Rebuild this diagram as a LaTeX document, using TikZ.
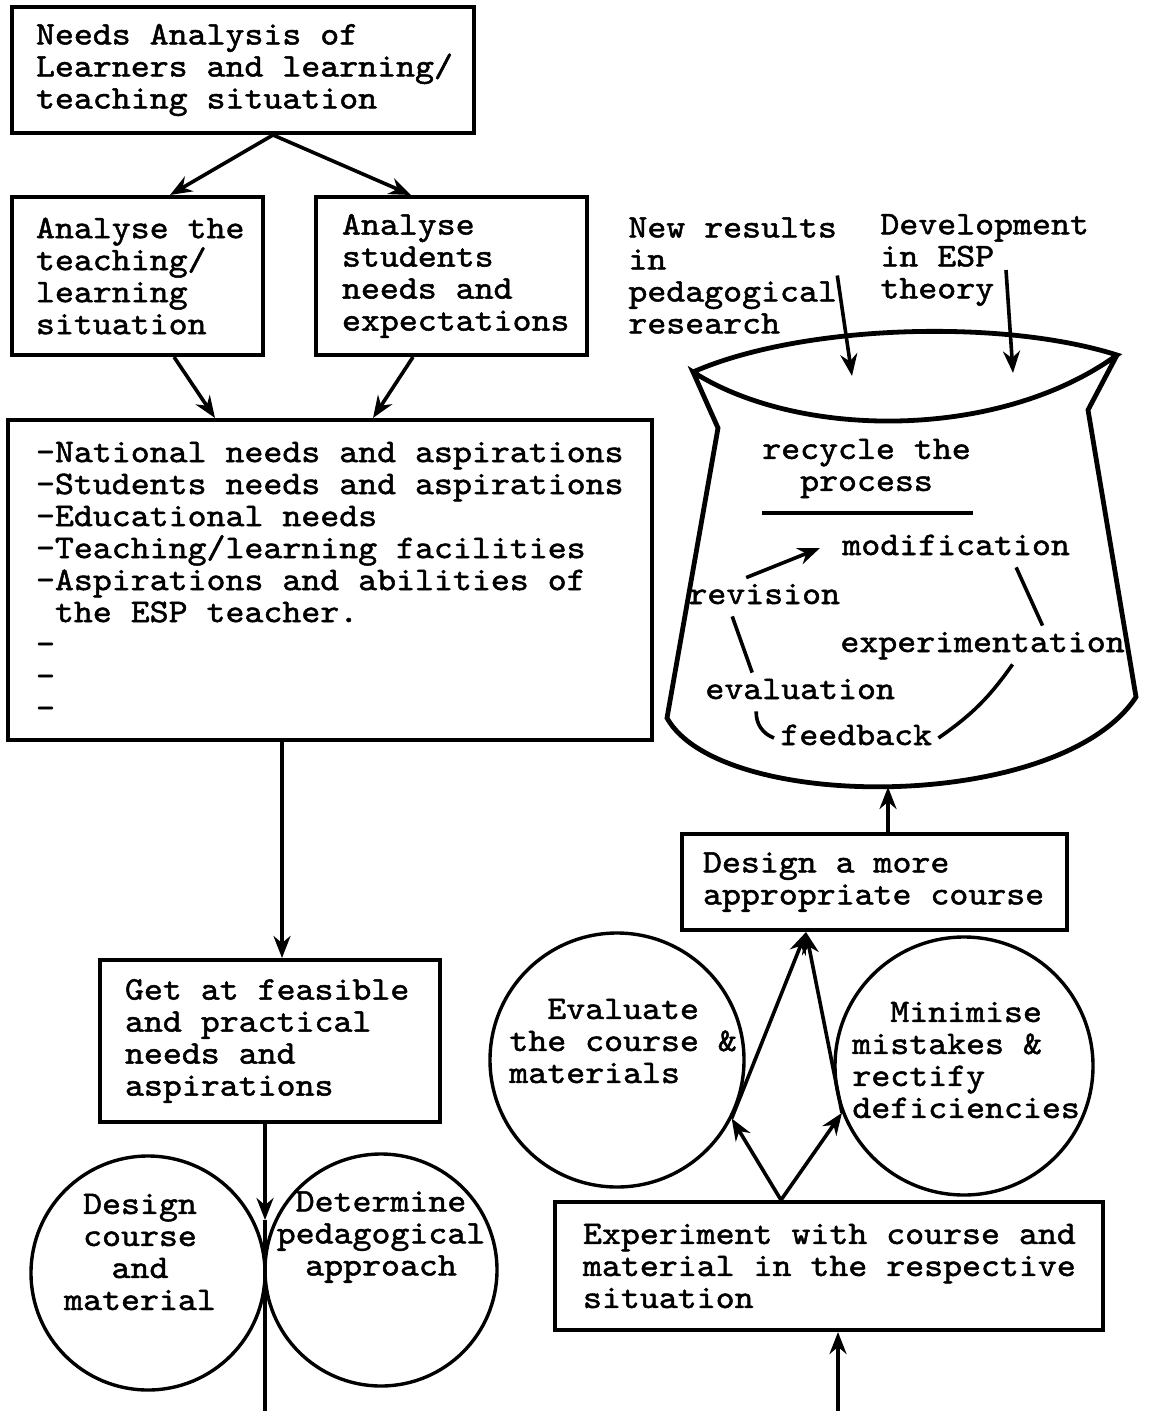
\documentclass[tikz,border=0pt]{standalone}
\usepackage{fontspec}
\newfontfamily\typer{lmmono10-regular.otf}[FakeBold=1.5, FakeStretch=1.094]
\newcommand\typeface{\typer\fontsize{16.5}{16}\selectfont}
\usetikzlibrary{arrows.meta, positioning}

\begin{document}
\begin{tikzpicture}[x=0.5pt, y=-0.5pt,
        every node/.style={font=\typeface, inner sep=0pt,
            execute at begin node={\spaceskip=\fontcharwd\font`x\relax\xspaceskip=\spaceskip\hyphenpenalty=10000\relax}},
        box/.style={draw, line width=2pt, align=left},
        ring/.style={circle, draw, line width=1.7pt},
        word/.style={inner sep=3pt, text height=10pt, text depth=3pt},
        arr/.style={-{Stealth[length=11pt, width=8.5pt]}, line width=1.8pt},
        link/.style={line width=1.8pt},
        bag/.style={line width=2.4pt}
    ]
    \useasboundingbox (0,0) rectangle (1148,1411);

    % Needs analysis and the two analyses
    \node[box, minimum width=231pt, minimum height=63pt, inner xsep=12pt, text width=207pt] (needs) at (243,70)
        {Needs Analysis of\\Learners~and~learning/\\teaching situation};
    \node[box, minimum width=125.5pt, minimum height=79pt, inner xsep=12pt, text width=101.5pt] (teach) at (137.5,276)
        {Analyse~the\\teaching/\\learning\\situation};
    \node[box, minimum width=135.5pt, minimum height=79pt, inner xsep=13pt, text width=109.5pt] (stud) at (451.5,276)
        {Analyse\\students\\needs and\\expectations};
    \draw[arr] (needs.south -| 273,0) -- (teach.north -| 170,0);
    \draw[arr] (needs.south -| 273,0) -- (stud.north -| 411,0);

    % List of needs
    \node[box, minimum width=322pt, minimum height=160pt, inner xsep=14pt, text width=294pt] (list) at (330,580)
        {-National~needs~and~aspirations\\-Students~needs~and~aspirations\\-Educational needs\\-Teaching/learning facilities\\-Aspirations and abilities of\\\phantom{-}the ESP teacher.\\-\\-\\-};
    \draw[arr] (teach.south -| 174,0) -- (list.north -| 215,0);
    \draw[arr] (stud.south -| 413,0) -- (list.north -| 373,0);

    % Feasible needs, course and approach
    \node[box, minimum width=170pt, minimum height=81pt, inner xsep=12.5pt, text width=145pt] (get) at (270,1041)
        {Get~at~feasible\\and practical\\needs and\\aspirations};
    \draw[arr] (list.south -| 282,0) -- (get.north -| 282,0);
    \node[ring, minimum size=117pt] (designc) at (148,1273) {};
    \node[ring, minimum size=116pt] (determc) at (381,1270) {};
    \node[align=center] (designtxt) at (140,1252) {Design\\course\\and\\material};
    \node[align=center] (determtxt) at (381,1237) {Determine\\pedagogical\\approach};
    \coordinate (meet) at (265,1220);
    \coordinate (leftend) at (265,1411);
    \draw[arr] (get.south -| 265,0) -- (meet);
    \draw[link] (meet) -- (leftend);

    % Experiment, evaluate, minimise
    \node[box, minimum width=274pt, minimum height=64pt, inner xsep=14pt, text width=246pt] (exp) at (829,1266)
        {Experiment~with~course~and\\material~in~the~respective\\situation};
    \node[ring, minimum size=127pt] (evalc) at (617,1060) {};
    \node[ring, minimum size=129pt] (minc) at (964,1066) {};
    \node[align=left, anchor=west] (evaltxt) at (509,1041) {\phantom{xx}Evaluate\\the course \&\\materials};
    \node[align=left, anchor=west] (mintxt) at (852,1060) {\phantom{xx}Minimise\\mistakes \&\\rectify\\deficiencies};
    \node[box, minimum width=192.5pt, minimum height=48pt, inner xsep=10.5pt, text width=171.5pt] (more) at (874.5,882)
        {Design a more\\appropriate~course};
    \coordinate (rightend) at (838,1411);
    \draw[arr] (rightend) -- (exp.south -| 838,0);
    \draw[arr] (exp.north -| 781,0) -- (evalc.-27);
    \draw[arr] (exp.north -| 781,0) -- (minc.201);
    \draw[arr] (evalc.-27) -- (more.south -| 806,0);
    \draw[arr] (minc.201) -- (more.south -| 806,0);

    % Recycle bag
    \draw[bag] (693,372) .. controls (800,325) and (1000,318) .. (1117,355)
        .. controls (1000,440) and (800,440) .. (693,372) -- (718,428) -- (667,718)
        .. controls (720,813) and (1060,813) .. (1136,697) -- (1088,410) -- (1117,355);
    \coordinate (bagfoot) at (888,787);
    \draw[arr] (more.north -| 888,0) -- (bagfoot);
    \node[align=left, anchor=west] (newres) at (628,275.5) {New results\\in\\pedagogical\\research};
    \node[align=left, anchor=west] (devesp) at (880,260) {Development\\in ESP\\theory};
    \coordinate (mouthA) at (852,376);
    \coordinate (mouthB) at (1013,373);
    \coordinate (theoryfoot) at (1006,270);
    \draw[arr] (newres.east) -- (mouthA);
    \draw[arr] (theoryfoot) -- (mouthB);

    \node[align=center] (recycle) at (866.5,468.5) {recycle the\\process};
    \draw[link] (762,513) -- (973,513);
    \node[word, anchor=west] (modif) at (836,548) {modification};
    \node[word, anchor=west] (revis) at (682,597) {revision};
    \node[word, anchor=west] (exper) at (834,645) {experimentation};
    \node[word, anchor=west] (evalu) at (699,692) {evaluation};
    \node[word, anchor=west] (feedb) at (774,738) {feedback};
    \draw[arr] ([xshift=-9pt]revis.north) -- ([xshift=-8pt]modif.west);
    \draw[link] ([xshift=30pt]modif.south) -- ([xshift=30pt]exper.north);
    \draw[link] ([xshift=15pt]exper.south) to[bend left=10] (feedb.east);
    \draw[link] ([xshift=-16pt]revis.south) -- ([xshift=-24pt]evalu.north);
    \draw[link] ([xshift=-22pt]evalu.south) to[bend right=35] (feedb.west);
\end{tikzpicture}
\end{document}
